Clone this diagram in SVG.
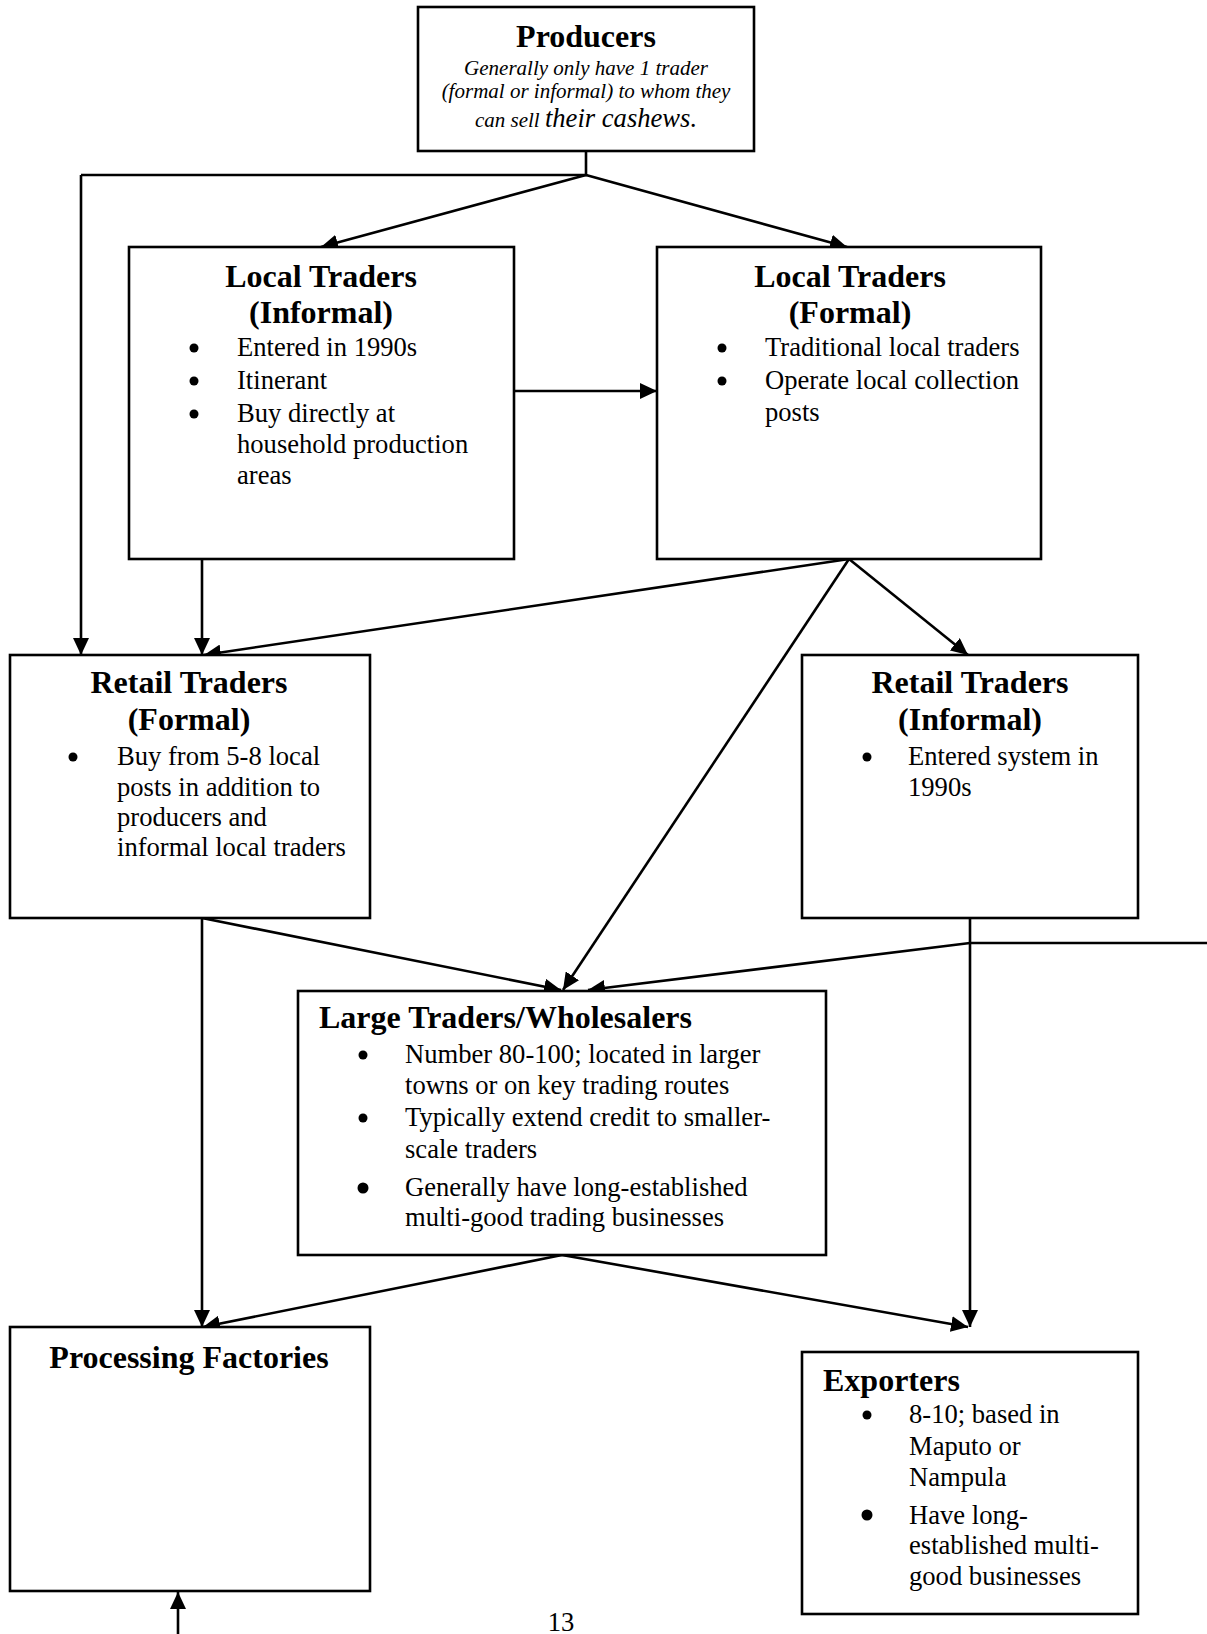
<svg xmlns="http://www.w3.org/2000/svg" width="1207" height="1634" viewBox="0 0 1207 1634">
<style>
.box{fill:#fff;stroke:#000;stroke-width:2.6}
.ln{fill:none;stroke:#000;stroke-width:2.6}
.t{font-family:"Liberation Serif","Times New Roman",serif;font-weight:bold;font-size:32px;fill:#000}
.b{font-family:"Liberation Serif","Times New Roman",serif;font-size:26.6px;fill:#000}
.i{font-family:"Liberation Serif","Times New Roman",serif;font-style:italic;font-size:21px;fill:#000}
.c{text-anchor:middle}
.dot{fill:#000}
</style>
<defs>
<marker id="ah" markerUnits="userSpaceOnUse" markerWidth="18" markerHeight="16" refX="17" refY="8" orient="auto">
<path d="M0,0 L17,8 L0,16 z" fill="#000"/>
</marker>
</defs>
<rect width="1207" height="1634" fill="#fff"/>

<g id="connectors">
<polyline class="ln" points="586,151 586,175 81,175"/>
<line class="ln" x1="81" y1="175" x2="81" y2="655" marker-end="url(#ah)"/>
<line class="ln" x1="586" y1="175" x2="321" y2="247" marker-end="url(#ah)"/>
<line class="ln" x1="586" y1="175" x2="847" y2="247" marker-end="url(#ah)"/>
<line class="ln" x1="514" y1="391" x2="657" y2="391" marker-end="url(#ah)"/>
<line class="ln" x1="202" y1="559" x2="202" y2="655" marker-end="url(#ah)"/>
<line class="ln" x1="849" y1="559" x2="204" y2="655" marker-end="url(#ah)"/>
<line class="ln" x1="849" y1="559" x2="968" y2="655" marker-end="url(#ah)"/>
<line class="ln" x1="849" y1="559" x2="563" y2="990" marker-end="url(#ah)"/>
<line class="ln" x1="202" y1="918" x2="202" y2="1327" marker-end="url(#ah)"/>
<line class="ln" x1="202" y1="918" x2="561" y2="990" marker-end="url(#ah)"/>
<line class="ln" x1="970" y1="918" x2="970" y2="1327" marker-end="url(#ah)"/>
<line class="ln" x1="1207" y1="943" x2="970" y2="943"/>
<line class="ln" x1="970" y1="943" x2="588" y2="990" marker-end="url(#ah)"/>
<line class="ln" x1="562" y1="1255" x2="203" y2="1327" marker-end="url(#ah)"/>
<line class="ln" x1="562" y1="1255" x2="968" y2="1327" marker-end="url(#ah)"/>
<line class="ln" x1="178" y1="1634" x2="178" y2="1592" marker-end="url(#ah)"/>
</g>

<g id="producers">
<rect class="box" x="418" y="7" width="336" height="144"/>
<text class="t c" x="586" y="47">Producers</text>
<text class="i c" x="586" y="75">Generally only have 1 trader</text>
<text class="i c" x="586" y="98">(formal or informal) to whom they</text>
<text class="i c" x="586" y="127">can sell <tspan font-size="26.6">their cashews.</tspan></text>
</g>

<g id="local-informal">
<rect class="box" x="129" y="247" width="385" height="312"/>
<text class="t c" x="321" y="287">Local Traders</text>
<text class="t c" x="321" y="323">(Informal)</text>
<circle class="dot" cx="194" cy="348" r="4.5"/>
<circle class="dot" cx="194" cy="381" r="4.5"/>
<circle class="dot" cx="194" cy="414" r="4.5"/>
<text class="b" x="237" y="356">Entered in 1990s</text>
<text class="b" x="237" y="389">Itinerant</text>
<text class="b" x="237" y="422">Buy directly at</text>
<text class="b" x="237" y="453">household production</text>
<text class="b" x="237" y="484">areas</text>
</g>

<g id="local-formal">
<rect class="box" x="657" y="247" width="384" height="312"/>
<text class="t c" x="850" y="287">Local Traders</text>
<text class="t c" x="850" y="323">(Formal)</text>
<circle class="dot" cx="722" cy="348" r="4.5"/>
<circle class="dot" cx="722" cy="381" r="4.5"/>
<text class="b" x="765" y="356">Traditional local traders</text>
<text class="b" x="765" y="389">Operate local collection</text>
<text class="b" x="765" y="421">posts</text>
</g>

<g id="retail-formal">
<rect class="box" x="10" y="655" width="360" height="263"/>
<text class="t c" x="189" y="693">Retail Traders</text>
<text class="t c" x="189" y="730">(Formal)</text>
<circle class="dot" cx="73" cy="757" r="4.5"/>
<text class="b" x="117" y="765">Buy from 5-8 local</text>
<text class="b" x="117" y="796">posts in addition to</text>
<text class="b" x="117" y="826">producers and</text>
<text class="b" x="117" y="856">informal local traders</text>
</g>

<g id="retail-informal">
<rect class="box" x="802" y="655" width="336" height="263"/>
<text class="t c" x="970" y="693">Retail Traders</text>
<text class="t c" x="970" y="730">(Informal)</text>
<circle class="dot" cx="867" cy="757" r="4.5"/>
<text class="b" x="908" y="765">Entered system in</text>
<text class="b" x="908" y="796">1990s</text>
</g>

<g id="large-traders">
<rect class="box" x="298" y="991" width="528" height="264"/>
<text class="t" x="319" y="1028">Large Traders/Wholesalers</text>
<circle class="dot" cx="363" cy="1055" r="4.5"/>
<circle class="dot" cx="363" cy="1118" r="4.5"/>
<circle class="dot" cx="363" cy="1188" r="5.5"/>
<text class="b" x="405" y="1063">Number 80-100; located in larger</text>
<text class="b" x="405" y="1094">towns or on key trading routes</text>
<text class="b" x="405" y="1126">Typically extend credit to smaller-</text>
<text class="b" x="405" y="1158">scale traders</text>
<text class="b" x="405" y="1196">Generally have long-established</text>
<text class="b" x="405" y="1226">multi-good trading businesses</text>
</g>

<g id="processing">
<rect class="box" x="10" y="1327" width="360" height="264"/>
<text class="t c" x="189" y="1368">Processing Factories</text>
</g>

<g id="exporters">
<rect class="box" x="802" y="1352" width="336" height="262"/>
<text class="t" x="823" y="1391">Exporters</text>
<circle class="dot" cx="867" cy="1415" r="4.5"/>
<circle class="dot" cx="867" cy="1515" r="5.5"/>
<text class="b" x="909" y="1423">8-10; based in</text>
<text class="b" x="909" y="1455">Maputo or</text>
<text class="b" x="909" y="1486">Nampula</text>
<text class="b" x="909" y="1524">Have long-</text>
<text class="b" x="909" y="1554">established multi-</text>
<text class="b" x="909" y="1585">good businesses</text>
</g>

<text class="b c" x="561" y="1631" font-size="38">13</text>
</svg>
